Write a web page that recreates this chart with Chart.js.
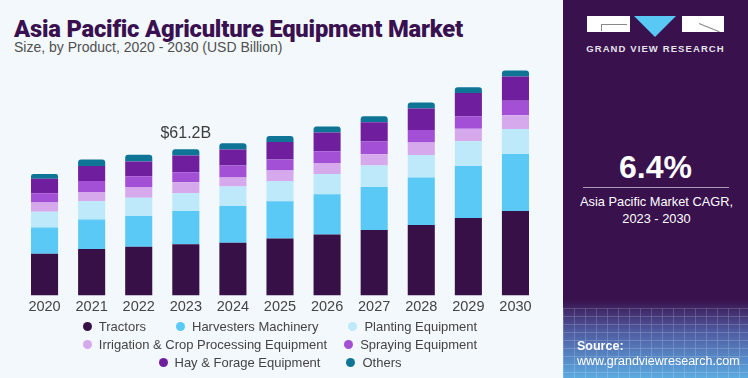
<!DOCTYPE html>
<html>
<head>
<meta charset="utf-8">
<script src="https://cdn.jsdelivr.net/npm/chart.js@4"></script>
<style>
  html, body { margin:0; padding:0; }
  body { width:748px; height:378px; background:#f3f8fc; position:relative; overflow:hidden; font-family:"Liberation Sans", Arial, sans-serif; }
  #title { position:absolute; left:14px; top:15px; font-weight:900; color:#3a1150; font-size:21px; white-space:nowrap; letter-spacing:-0.2px; font-family:"Roboto","Liberation Sans",sans-serif; }
  #subtitle { position:absolute; left:14px; top:39px; color:#505050; font-size:14px; white-space:nowrap; }
  #chartbox { position:absolute; left:0; top:0; width:563px; height:319px; }
  #legend { position:absolute; left:0; top:317px; width:563px; font-size:13px; color:#444; }
  .lrow { display:flex; justify-content:center; align-items:center; height:18px; margin-left:-3px; }
  .litem { display:flex; align-items:center; white-space:nowrap; }
  .ldot { width:9px; height:9px; border-radius:50%; margin-right:7px; }
  #panel { position:absolute; left:563px; top:0; width:185px; height:378px; background:#39114d; overflow:hidden; }
  #panelgrad { position:absolute; left:0; top:300px; width:185px; height:78px;
     background:linear-gradient(to bottom, rgba(57,17,77,1) 0%, rgba(80,95,165,0.95) 40%, rgba(92,170,225,1) 100%); }
  #panelgrid { position:absolute; left:0; top:308px; width:185px; height:70px; opacity:0.25;
     background-image:repeating-linear-gradient(to right, rgba(255,255,255,0.7) 0 1px, transparent 1px 11px),
                      repeating-linear-gradient(to bottom, rgba(255,255,255,0.7) 0 1px, transparent 1px 8px); }
  .logoblk { position:absolute; background:#fff; }
  #tri { position:absolute; left:71px; top:16px; width:0; height:0; border-left:21px solid transparent; border-right:21px solid transparent; border-top:21px solid #5ac8f5; }
  #gvr { position:absolute; left:0; width:185px; top:43px; text-align:center; color:#e6e3ea; font-weight:bold; font-size:9.5px; letter-spacing:1.1px; }
  #cagr { position:absolute; left:0; width:185px; top:149px; text-align:center; color:#fff; font-weight:bold; font-size:32px; }
  #cagrline { position:absolute; left:20px; width:146px; top:187px; height:1px; background:#a99cb4; }
  #cagrtxt { position:absolute; left:0; width:187px; top:193px; text-align:center; color:#fff; font-size:12.8px; line-height:17px; }
  #src { position:absolute; left:14px; top:339px; color:#fff; font-size:12.5px; line-height:15px; }
</style>
</head>
<body>
<div id="title">Asia Pacific Agriculture Equipment Market</div>
<div id="subtitle">Size, by Product, 2020 - 2030 (USD Billion)</div>
<div id="chartbox"><canvas id="c" width="563" height="319"></canvas></div>
<div id="legend"></div>
<div id="panel">
  <div id="panelgrad"></div>
  <div id="panelgrid"></div>
  <div class="logoblk" style="left:24px;top:16px;width:43px;height:16px;"></div>
  <div style="position:absolute;left:38px;top:24px;width:26px;height:1px;background:#888;"></div>
  <div style="position:absolute;left:38px;top:24px;width:1px;height:7px;background:#888;"></div>
  <div id="tri"></div>
  <div class="logoblk" style="left:119px;top:16px;width:42px;height:16px;"></div>
  <div style="position:absolute;left:136px;top:23px;width:22px;height:1px;background:#888;transform:rotate(22deg);transform-origin:left center;"></div>
  <div id="gvr">GRAND VIEW RESEARCH</div>
  <div id="cagr">6.4%</div>
  <div id="cagrline"></div>
  <div id="cagrtxt">Asia Pacific Market CAGR,<br>2023 - 2030</div>
  <div id="src"><b>Source:</b><br>www.grandviewresearch.com</div>
</div>
<script>
const years = ['2020','2021','2022','2023','2024','2025','2026','2027','2028','2029','2030'];
const seriesNames = ['Tractors','Harvesters Machinery','Planting Equipment','Irrigation & Crop Processing Equipment','Spraying Equipment','Hay & Forage Equipment','Others'];
const seriesColors = ['#371047','#5bc9f6','#bde9fa','#d6a9ec','#a34fd6','#6f1f9d','#0e7596'];
const tractors    = [17.5, 19.5, 20.4, 21.4, 22.1, 23.8, 25.5, 27.4, 29.5, 32.4, 35.3];
const harvesters  = [10.9, 12.3, 12.8, 13.9, 15.3, 15.6, 16.8, 17.9, 19.8, 21.7, 23.8];
const planting    = [6.6, 7.6, 7.6, 7.4, 8.1, 8.4, 8.4, 9.0, 9.4, 10.3, 10.4];
const irrigation  = [3.9, 3.8, 4.5, 4.6, 3.8, 4.4, 4.6, 4.7, 5.2, 5.2, 5.8];
const spraying    = [3.8, 4.6, 4.5, 4.2, 5.0, 4.6, 4.9, 5.3, 5.2, 5.2, 6.0];
const hayForage   = [6.1, 6.3, 6.2, 7.0, 6.7, 7.3, 7.9, 8.1, 9.0, 9.8, 10.1];
const others      = [1.9, 2.7, 2.8, 2.6, 2.6, 2.5, 2.5, 2.5, 2.5, 2.4, 2.5];
const annotationYear = '2023';
const annotationText = '$61.2B';
const legendRows = [[0,1,2],[3,4],[5,6]];
const legendGaps = [30,17,26];

const seriesValues = [tractors, harvesters, planting, irrigation, spraying, hayForage, others];

const datasets = seriesValues.map((vals, i) => ({
  label: seriesNames[i],
  data: vals,
  backgroundColor: seriesColors[i],
  borderWidth: 0,
  borderRadius: i === seriesValues.length - 1 ? {topLeft:3, topRight:3, bottomLeft:0, bottomRight:0} : 0,
  borderSkipped: false,
  barPercentage: 0.575,
  categoryPercentage: 1.0
}));

const labelPlugin = {
  id: 'totalLabel',
  afterDatasetsDraw(chart) {
    const idx = chart.data.labels.indexOf(annotationYear);
    const meta = chart.getDatasetMeta(chart.data.datasets.length - 1);
    const el = meta.data[idx];
    const ctx = chart.ctx;
    ctx.save();
    ctx.font = '16px "Liberation Sans", Arial, sans-serif';
    ctx.fillStyle = '#3c3c3c';
    ctx.textAlign = 'center';
    ctx.textBaseline = 'middle';
    ctx.fillText(annotationText, el.x, el.y - 16);
    ctx.restore();
  }
};

new Chart(document.getElementById('c'), {
  type: 'bar',
  data: { labels: years, datasets },
  options: {
    responsive: false,
    devicePixelRatio: 1,
    animation: false,
    layout: { padding: { top: 56, left: 21, right: 24, bottom: 0 } },
    plugins: { legend: { display: false }, tooltip: { enabled: false } },
    scales: {
      x: {
        stacked: true,
        grid: { display: false, drawTicks: false },
        border: { display: false },
        ticks: { color: '#444', font: { size: 14.5, family: '"Liberation Sans", Arial, sans-serif' }, padding: 3 }
      },
      y: { stacked: true, display: false, min: 0, max: 100 }
    }
  },
  plugins: [labelPlugin]
});

// HTML legend built from the series arrays
const legend = document.getElementById('legend');
legendRows.forEach((row, r) => {
  const div = document.createElement('div');
  div.className = 'lrow';
  div.style.gap = legendGaps[r] + 'px';
  row.forEach(i => {
    const it = document.createElement('div');
    it.className = 'litem';
    const d = document.createElement('span');
    d.className = 'ldot';
    d.style.background = seriesColors[i];
    const t = document.createElement('span');
    t.textContent = seriesNames[i];
    it.appendChild(d); it.appendChild(t);
    div.appendChild(it);
  });
  legend.appendChild(div);
});

// fit title width to reference
const title = document.getElementById('title');
const w = title.getBoundingClientRect().width;
const target = 448;
title.style.fontSize = (21 * target / w).toFixed(2) + 'px';
</script>
</body>
</html>
